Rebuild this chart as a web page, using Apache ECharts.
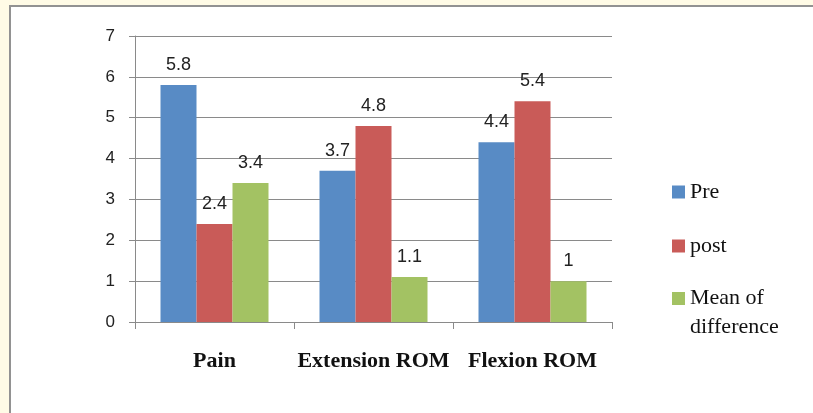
<!DOCTYPE html>
<html>
<head>
<meta charset="utf-8">
<script src="https://cdn.jsdelivr.net/npm/echarts@6/dist/echarts.min.js"></script>
<style>
html,body{margin:0;padding:0;width:813px;height:413px;background:#fffbe6;overflow:hidden;}
#panel{position:absolute;left:9px;top:5px;width:810px;height:420px;background:#fff;border-left:2px solid #929292;border-top:2px solid #929292;}
#chart{position:absolute;left:0;top:0;width:813px;height:413px;}
</style>
</head>
<body>
<div id="panel"></div>
<div id="chart"></div>
<script>
const categories = ['Pain', 'Extension ROM', 'Flexion ROM'];
const seriesNames = ['Pre', 'post', 'Mean of difference'];
const preValues = [5.8, 3.7, 4.4];
const postValues = [2.4, 4.8, 5.4];
const meanDiffValues = [3.4, 1.1, 1];
const yTicks = [0, 1, 2, 3, 4, 5, 6, 7];

const colors = ['#588bc5', '#c95b58', '#a3c263'];
const chart = echarts.init(document.getElementById('chart'));
const labelCfg = {
  show: true, position: 'top', distance: 11,
  fontFamily: 'Liberation Sans', fontSize: 18, color: '#222'
};
const valuesList = [preValues, postValues, meanDiffValues];
chart.setOption({
  animation: false,
  backgroundColor: 'transparent',
  grid: {left: 135, top: 36, right: 201, bottom: 91, containLabel: false},
  legend: [
    {
      data: [seriesNames[0], seriesNames[1]],
      orient: 'vertical', left: 672, top: 180, padding: 0,
      itemWidth: 13, itemHeight: 13, itemGap: 30,
      icon: 'rect',
      textStyle: {fontFamily: 'Liberation Serif', fontSize: 22, color: '#111', lineHeight: 24}
    },
    {
      data: [seriesNames[2]],
      orient: 'vertical', left: 672, top: 255, padding: 0,
      itemWidth: 13, itemHeight: 13,
      icon: 'rect',
      formatter: function (n) { return '{a| }\n{a|Mean of}\n{a|difference}'; },
      textStyle: {
        fontFamily: 'Liberation Serif', fontSize: 22, color: '#111', lineHeight: 29,
        rich: {a: {fontFamily: 'Liberation Serif', fontSize: 22, color: '#111', lineHeight: 29}}
      }
    }
  ],
  xAxis: {
    type: 'category',
    data: categories,
    axisLine: {show: true, lineStyle: {color: '#8a8a8a', width: 1}},
    axisTick: {show: true, length: 7, lineStyle: {color: '#8a8a8a'}},
    axisLabel: {interval: 0, margin: 28, fontFamily: 'Liberation Serif', fontWeight: 'bold', fontSize: 22, color: '#111'}
  },
  yAxis: {
    type: 'value',
    min: yTicks[0], max: yTicks[yTicks.length - 1], interval: 1,
    axisLine: {show: true, lineStyle: {color: '#8a8a8a', width: 1}},
    axisTick: {show: true, length: 6, lineStyle: {color: '#8a8a8a'}},
    splitLine: {show: true, lineStyle: {color: '#8a8a8a', width: 1}},
    axisLabel: {margin: 20, fontFamily: 'Liberation Sans', fontSize: 17, color: '#222'}
  },
  series: seriesNames.map((name, i) => ({
    name: name,
    type: 'bar',
    data: valuesList[i],
    barWidth: 36,
    barGap: '0%',
    itemStyle: {color: colors[i]},
    label: labelCfg
  }))
});
</script>
</body>
</html>
